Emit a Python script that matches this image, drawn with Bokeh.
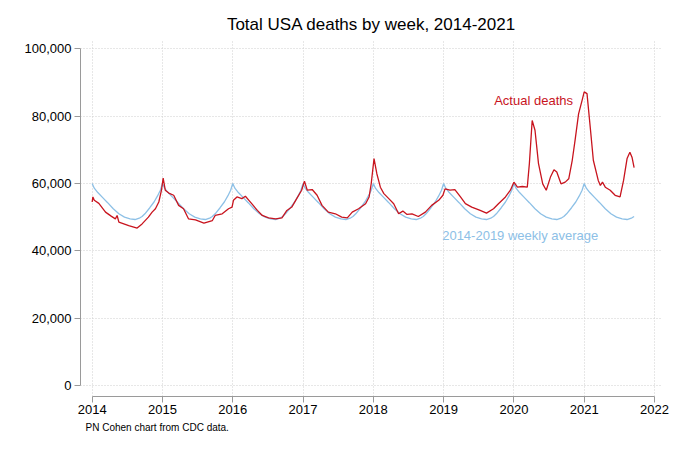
from bokeh.plotting import figure
from bokeh.models import Label, Title, FixedTicker, NumeralTickFormatter
from bokeh.embed import file_html
from bokeh.resources import INLINE

# actual weekly deaths (decimal year, deaths)
actual_t = [2014.00, 2014.01, 2014.03, 2014.095, 2014.19, 2014.27, 2014.33, 2014.355, 2014.38,
    2014.52, 2014.64, 2014.71, 2014.80, 2014.853, 2014.90, 2014.948, 2014.986,
    2015.01, 2015.04, 2015.09, 2015.16, 2015.23, 2015.30, 2015.37, 2015.47, 2015.59,
    2015.71, 2015.75, 2015.85, 2015.94, 2015.99,
    2016.01, 2016.06, 2016.13, 2016.18, 2016.23, 2016.27, 2016.35, 2016.42, 2016.51,
    2016.61, 2016.70, 2016.77, 2016.84, 2016.91, 2016.98,
    2017.02, 2017.06, 2017.13, 2017.20, 2017.27, 2017.36, 2017.46, 2017.55, 2017.63,
    2017.70, 2017.79, 2017.89, 2017.94, 2017.97,
    2018.01, 2018.05, 2018.10, 2018.15, 2018.22, 2018.29, 2018.36, 2018.42, 2018.48,
    2018.55, 2018.64, 2018.74, 2018.83, 2018.93, 2018.99,
    2019.02, 2019.09, 2019.16, 2019.24, 2019.31, 2019.40, 2019.52, 2019.61, 2019.71,
    2019.78, 2019.88, 2019.95,
    2020.00, 2020.05, 2020.12, 2020.19, 2020.22, 2020.26, 2020.30, 2020.35, 2020.41,
    2020.46, 2020.52, 2020.57, 2020.61, 2020.67, 2020.73, 2020.78, 2020.83, 2020.87,
    2020.92, 2020.97,
    2021.00, 2021.04, 2021.09, 2021.13, 2021.20, 2021.23, 2021.26, 2021.30, 2021.37,
    2021.44, 2021.51, 2021.56, 2021.61, 2021.65, 2021.68, 2021.71]
actual_v = [54500, 56000, 55000, 54100, 51500, 50300, 49500, 50500, 48500,
    47500, 46750, 48000, 50000, 51500, 52500, 54500, 58000,
    61600, 58000, 57150, 56500, 53500, 52500, 49500, 49200, 48250,
    49000, 50500, 51000, 52500, 53000,
    55000, 56000, 55500, 56200, 55000, 54000, 52000, 50500, 49800,
    49500, 49800, 52000, 53000, 55500, 58000,
    60700, 58000, 58200, 56500, 53500, 51500, 51000, 50000, 49800,
    51500, 52500, 54000, 56000, 60000,
    67400, 62900, 58900, 57000, 55500, 54000, 51000, 51800, 50800,
    51000, 50200, 51500, 53500, 55000, 56500,
    58400, 58000, 58200, 56000, 54000, 53000, 52000, 51200, 52500,
    54000, 56000, 58000,
    60400, 58900, 59100, 58900, 65900, 78700, 75800, 65900, 59900,
    58000, 61900, 64100, 63400, 59900, 60400, 61400, 66900, 72800,
    80700, 84700,
    87200, 86700, 75800, 66900, 60900, 59400, 60400, 58900, 58000,
    56500, 56000, 60900, 67400, 69300, 67800, 64700]

# 2014-2019 weekly average, one seasonal profile (fraction of year, deaths)
avg_frac = [0.00, 0.03, 0.08, 0.15, 0.22, 0.30, 0.38, 0.46, 0.54, 0.61, 0.68, 0.71,
    0.75, 0.82, 0.88, 0.93, 0.97]
avg_v = [60000, 58600, 57300, 55800, 54300, 52500, 51000, 50000, 49500, 49300, 49800, 50200,
    51000, 52800, 54500, 56300, 58000]
years = [2014, 2015, 2016, 2017, 2018, 2019, 2020, 2021]
last_t = 2021.71

x_ticks = [2014, 2015, 2016, 2017, 2018, 2019, 2020, 2021, 2022]
y_ticks = [0, 20000, 40000, 60000, 80000, 100000]

avg_t, avg_y = [], []
for yr in years:
    for f, v in zip(avg_frac, avg_v):
        if yr + f <= last_t:
            avg_t.append(yr + f)
            avg_y.append(v)

red = "#c8141e"
blue = "#8dc0e6"

p = figure(width=672, height=445, x_range=(2013.834, 2022.114), y_range=(-3270, 102470),
    output_backend="svg", toolbar_location=None,
    title="Total USA deaths by week, 2014-2021",
    min_border_left=80, min_border_right=10, min_border_top=40, min_border_bottom=49)
p.title.align = "center"
p.title.text_font = "Liberation Sans"
p.title.text_font_size = "17px"
p.title.text_font_style = "normal"
p.title.text_color = "black"
p.title.standoff = 14
p.outline_line_color = None

p.line(avg_t, avg_y, line_color=blue, line_width=1.3)
p.line(actual_t, actual_v, line_color=red, line_width=1.3)

for ax in (p.xaxis[0], p.yaxis[0]):
    ax.axis_line_color = "#9a9a9a"
    ax.major_tick_line_color = "#9a9a9a"
    ax.major_tick_out = 6
    ax.major_tick_in = 0
    ax.minor_tick_line_color = None
    ax.major_label_text_font = "Liberation Sans"
    ax.major_label_text_font_size = "13px"
    ax.major_label_text_color = "black"

p.xaxis.ticker = FixedTicker(ticks=x_ticks)
p.xaxis.bounds = (2014, 2022)
p.xaxis.major_label_standoff = 2
p.yaxis.ticker = FixedTicker(ticks=y_ticks)
p.yaxis.formatter = NumeralTickFormatter(format="0,0")
p.yaxis.bounds = (0, 100000)
p.yaxis.major_label_standoff = 3

p.xgrid.ticker = FixedTicker(ticks=x_ticks)
p.ygrid.ticker = FixedTicker(ticks=y_ticks)
for g in (p.xgrid[0], p.ygrid[0]):
    g.grid_line_color = "#cfcfcf"
    g.grid_line_dash = "1 2"
    g.grid_line_width = 1

p.add_layout(Label(x=2020.28, y=84700, text="Actual deaths", text_color=red,
    text_font="Liberation Sans", text_font_size="13px",
    text_align="center", text_baseline="middle"))
p.add_layout(Label(x=2020.09, y=44600, text="2014-2019 weekly average", text_color=blue,
    text_font="Liberation Sans", text_font_size="13px",
    text_align="center", text_baseline="middle"))
p.add_layout(Title(text="PN Cohen chart from CDC data.", align="left", offset=5,
    text_color="black", text_font="Liberation Sans", text_font_size="10px",
    text_font_style="normal", standoff=7), "below")

open("out.html", "w").write(file_html(p, INLINE))
